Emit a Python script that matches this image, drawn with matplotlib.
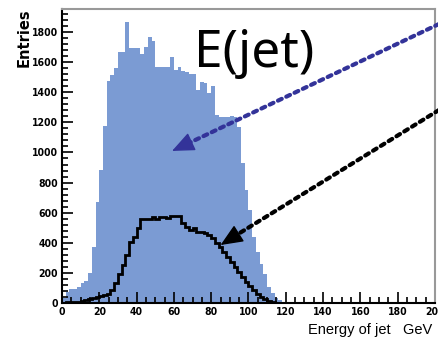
import numpy as np
import matplotlib
matplotlib.use("Agg")
import matplotlib.pyplot as plt
from matplotlib.ticker import MultipleLocator

# 2 GeV bins, 0-200 GeV
edges = np.arange(0, 202, 2)

all_jets = [30, 70, 90, 95, 105, 135, 145, 200, 370, 670,
            885, 1176, 1477, 1515, 1559, 1670, 1670, 1869, 1697, 1697,
            1697, 1654, 1700, 1770, 1740, 1570, 1570, 1570, 1565, 1636,
            1548, 1570, 1540, 1537, 1520, 1520, 1415, 1470, 1460, 1395,
            1440, 1250, 1238, 1238, 1238, 1240, 1238, 1171, 930, 751,
            618, 441, 341, 260, 190, 108, 64, 35, 20, 8,
            4, 3, 2, 1, 1] + [0] * 35

sel_jets = [3, 5, 6, 8, 10, 14, 18, 24, 32, 40,
            46, 52, 62, 88, 132, 195, 255, 320, 405, 441,
            500, 560, 556, 556, 573, 556, 573, 573, 565, 578,
            578, 578, 530, 503, 485, 496, 474, 474, 463, 450,
            430, 397, 374, 341, 308, 274, 241, 208, 175, 140,
            110, 85, 60, 42, 25, 12, 6, 3] + [0] * 42

fig = plt.figure(figsize=(4.39, 3.45), dpi=100)
ax = fig.add_axes([0.1412, 0.1217, 0.8497, 0.8522])

ax.stairs(all_jets, edges, fill=True, color="#7b9bd3", lw=0)
ax.stairs(sel_jets, edges, color="black", lw=2.0)

ax.set_xlim(0, 200)
ax.set_ylim(0, 1953)

ax.xaxis.set_major_locator(MultipleLocator(20))
ax.xaxis.set_minor_locator(MultipleLocator(5))
ax.yaxis.set_major_locator(MultipleLocator(200))
ax.yaxis.set_minor_locator(MultipleLocator(40))
ax.tick_params(which="both", direction="in", top=False, right=False, width=1.2)
ax.tick_params(which="major", length=8, pad=3, labelsize=7.5)
ax.tick_params(which="minor", length=4)
for lab in ax.get_xticklabels() + ax.get_yticklabels():
    lab.set_fontstretch("condensed")
    lab.set_fontweight("bold")

for s in ["left", "bottom"]:
    ax.spines[s].set_linewidth(1.5)
for s in ["top", "right"]:
    ax.spines[s].set_color("#999999")
    ax.spines[s].set_linewidth(1.5)

fig.text(24 / 439, 1 - 8 / 345, "Entries", rotation=90, ha="center", va="top",
         fontsize=10.5, fontweight="bold")
fig.text(432 / 439, 1 - 330 / 345, "Energy of jet   GeV", ha="right", va="center",
         fontsize=10.5, family=["Liberation Sans", "DejaVu Sans"])

ax.text(0.355, 0.85, "E(jet)", transform=ax.transAxes, fontsize=37,
        family=["Noto Sans", "DejaVu Sans"], ha="left", va="center")

# annotation arrows: dotted shaft + solid head
for tip, base, tail, col in [((59, 1010), (68.8, 1067), (1.0, 1 - 24 / 345), "#333399"),
                             ((85, 385), (94.0, 455), (1.0, 1 - 110 / 345), "black")]:
    ax.annotate("", xy=base, xycoords="data",
                xytext=tail, textcoords="figure fraction",
                arrowprops=dict(arrowstyle="-", color=col, lw=3,
                                linestyle=(0, (1, 1.2)), shrinkA=0, shrinkB=0),
                annotation_clip=False)
    ax.annotate("", xy=tip, xycoords="data", xytext=base, textcoords="data",
                arrowprops=dict(arrowstyle="-|>,head_length=1.4,head_width=0.6",
                                color=col, lw=1, shrinkA=0, shrinkB=0),
                annotation_clip=False)

fig.savefig("out.png", dpi=100)
